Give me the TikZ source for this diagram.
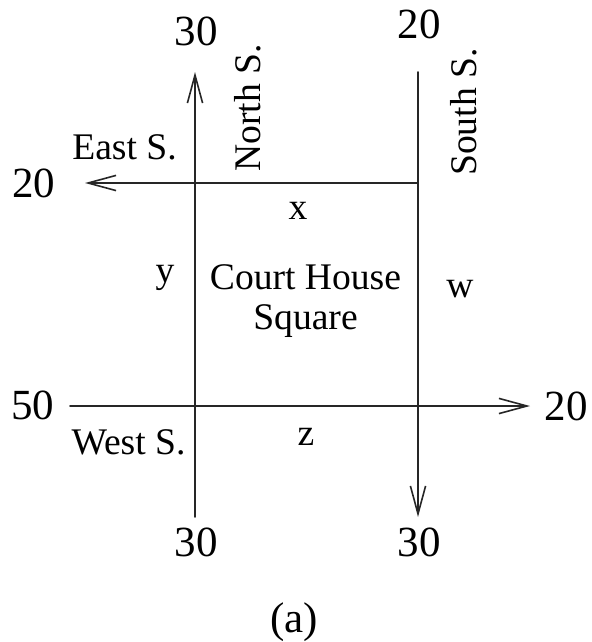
\documentclass[tikz,border=0pt]{standalone}
\usepackage{fontspec}
\setmainfont{Liberation Serif}
\usetikzlibrary{arrows.meta}
\begin{document}
\begin{tikzpicture}[x=0.25pt,y=-0.25pt,line cap=round,line join=round,
  street/.style={line width=0.4pt,draw=black!85},
  oneway/.style={street,-{Straight Barb[length=7pt,width=3.8pt]}},
  flow/.style={anchor=base,inner sep=0pt,font=\fontsize{10.75pt}{12pt}\selectfont},
  tag/.style={anchor=base,inner sep=0pt,font=\fontsize{9.4pt}{10pt}\selectfont}]
\useasboundingbox (0,0) rectangle (591,642);
% street ends
\coordinate (northTop) at (195,72);\coordinate (northBot) at (195,517);
\coordinate (southTop) at (418,72);\coordinate (southBot) at (418,517);
\coordinate (eastIn) at (418,183);\coordinate (eastOut) at (85,183);
\coordinate (westIn) at (70,406);\coordinate (westOut) at (530,406);
\draw[oneway] (northBot)--(northTop);\draw[oneway] (southTop)--(southBot);
\draw[oneway] (eastIn)--(eastOut);\draw[oneway] (westIn)--(westOut);
% traffic volumes
\node[flow] (northOut) at (196,45) {30};\node[flow] (southIn) at (419,38) {20};
\node[flow] (eastVol) at (34,197) {20};\node[flow] (westVol) at (33,419) {50};
\node[flow] (westOutVol) at (566,420) {20};
\node[flow] (northIn) at (196,556) {30};\node[flow] (southOutVol) at (419,556) {30};
% street names and unknowns
\node[tag] (eastName) at (124.5,159) {East S.};\node[tag] (westName) at (128.5,454) {West S.};
\node[tag,rotate=90] (northName) at (260,108) {North S.};\node[tag,rotate=90] (southName) at (476,112) {South S.};
\node[tag] (ux) at (298,219) {x};\node[tag] (uy) at (165,282) {y};\node[tag] (uw) at (460,297) {w};\node[tag] (uz) at (306,445) {z};
\node[tag,align=center,anchor=north] (square) at (305.5,264) {Court House\\Square};
\node[flow] (caption) at (294,632) {(a)};
\end{tikzpicture}
\end{document}
